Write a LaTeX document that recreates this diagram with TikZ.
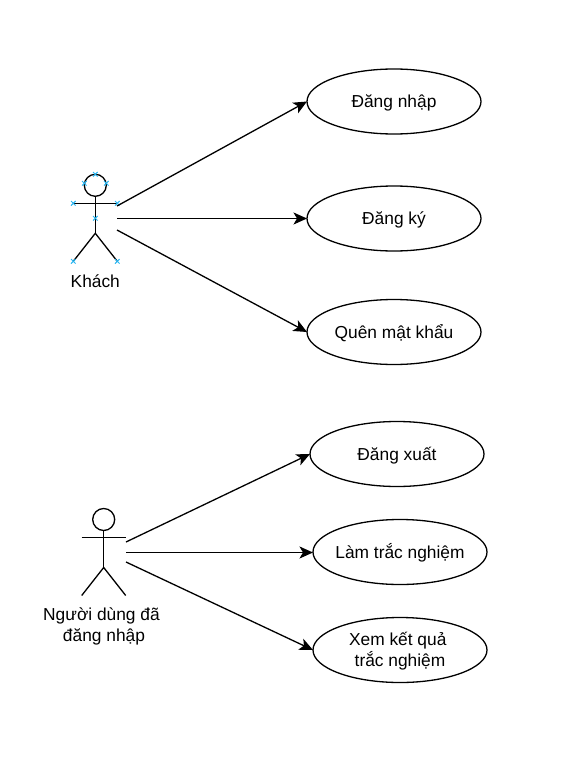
\documentclass[tikz,border=0pt]{standalone}
\usepackage{fontspec}
\setmainfont{Liberation Sans}
\usetikzlibrary{arrows.meta,shapes.geometric,shapes.misc}
\definecolor{handle}{HTML}{29B6F2}
\tikzset{
  x=1pt,y=-1pt,
  every node/.style={font=\fontsize{17.35}{20.8}\selectfont,text=black},
  usecase/.style={draw=black,ellipse,line width=1.3pt,minimum width=174pt,minimum height=65pt,inner sep=0pt,outer sep=0pt},
  casetext/.style={inner sep=0pt,text height=17pt,text depth=5pt},
  casetexttwo/.style={inner sep=0pt,align=center,yshift=-1pt},
  stick/.style={draw=black,line width=1.3pt},
  link/.style={draw=black,line width=1.3pt,-{Stealth[length=13.5pt,width=12pt,inset=3.5pt]}},
  actorlabel/.style={inner sep=0pt,align=center},
  handlemark/.style={draw=handle,line width=1pt,cross out,minimum size=3.5pt,inner sep=0pt}
}
\newcommand{\stickman}[2]{%
  \draw[stick] (#1,#2) circle[radius=11];
  \draw[stick] (#1,#2+11) -- (#1,#2+48);
  \draw[stick] (#1-22,#2+18) -- (#1+22,#2+18);
  \draw[stick] (#1-22,#2+76) -- (#1,#2+48) -- (#1+22,#2+76);
}
\begin{document}
\begin{tikzpicture}
\useasboundingbox (0,0) rectangle (562,781);
% actors
\stickman{95.3}{185.3}
\foreach \p [count=\i] in {(95.3,174.3),(84.3,183.3),(106.3,183.3),(73.3,203.3),(117.3,203.3),(95.3,218.3),(73.3,261.3),(117.3,261.3)}{
  \node[handlemark] (handle\i) at \p {};
}
\stickman{103.7}{519.5}
\node[actorlabel] (guest) at (95.3,281.5) {Khách};
\node[actorlabel] (user) at (104,626.5) {Người dùng đã\kern5pt\\đăng nhập};
% use cases
\node[usecase,label={[casetext]center:Đăng nhập}] (login) at (394,101.5) {};
\node[usecase,label={[casetext]center:Đăng ký}] (register) at (394,218.5) {};
\node[usecase,label={[casetext]center:Quên mật khẩu}] (forgot) at (394,332) {};
\node[usecase,label={[casetext]center:Đăng xuất}] (logout) at (397,454) {};
\node[usecase,label={[casetext]center:Làm trắc nghiệm}] (quiz) at (400,552) {};
\node[usecase,label={[casetexttwo]center:{Xem kết quả\kern4.5pt\\trắc nghiệm}}] (result) at (400,650) {};
% connector free ends
\coordinate (g1) at (117,206);
\coordinate (g2) at (117,218.5);
\coordinate (g3) at (117,230);
\coordinate (u1) at (126,542);
\coordinate (u2) at (126,552.5);
\coordinate (u3) at (126,562);
\draw[link] (g1) -- (login.west);
\draw[link] (g2) -- (register.west);
\draw[link] (g3) -- (forgot.west);
\draw[link] (u1) -- (logout.west);
\draw[link] (u2) -- (quiz.west |- u2);
\draw[link] (u3) -- (result.west);
\end{tikzpicture}
\end{document}
